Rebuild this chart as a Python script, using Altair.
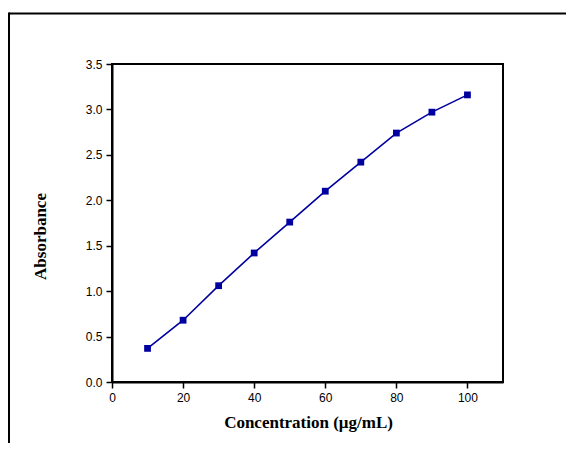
import altair as alt
import pandas as pd

conc = [10, 20, 30, 40, 50, 60, 70, 80, 90, 100]
absorb = [0.37, 0.68, 1.06, 1.42, 1.76, 2.10, 2.42, 2.74, 2.97, 3.16]

x_ticks = [0, 10, 20, 30, 40, 50, 60, 70, 80, 90, 100, 110]
y_ticks = [0, 0.25, 0.5, 0.75, 1.0, 1.25, 1.5, 1.75, 2.0, 2.25, 2.5, 2.75, 3.0, 3.25, 3.5]

df = pd.DataFrame({"conc": conc, "abs": absorb})

COLOR = "#0000A0"

x_enc = alt.X(
    "conc:Q",
    scale=alt.Scale(domain=[0, 110], nice=False, zero=False),
    axis=alt.Axis(
        values=x_ticks,
        labelExpr="datum.value % 20 === 0 ? datum.label : ''",
        tickSize={"condition": {"test": "datum.value % 20 === 0", "value": 6}, "value": 3},
        title="Concentration (μg/mL)",
        titleX=196,
        titleY=45,
        titleAnchor="middle",
        titleAlign="center",
        titleBaseline="alphabetic",
        labelPadding=4,
        labelFlush=False,
    ),
)
y_enc = alt.Y(
    "abs:Q",
    scale=alt.Scale(domain=[0, 3.5], nice=False),
    axis=alt.Axis(
        values=y_ticks,
        format=".1f",
        labelExpr="(datum.value * 2) % 1 === 0 ? datum.label : ''",
        tickSize={"condition": {"test": "(datum.value * 2) % 1 === 0", "value": 6}, "value": 3},
        title="Absorbance",
        titleAngle=270,
        titleX=-67,
        titleY=172,
        titleAlign="center",
        titleBaseline="alphabetic",
        labelPadding=4,
        labelFlush=False,
    ),
)

base = alt.Chart(df)
line = base.mark_line(color=COLOR, strokeWidth=1.6).encode(x=x_enc, y=y_enc)
pts = base.mark_square(color=COLOR, size=46, opacity=1).encode(x="conc:Q", y="abs:Q")

frame_data = alt.Data(values=[{"k": 1}])
frame_top = alt.Chart(frame_data).mark_rule(color="black", strokeWidth=2).encode(
    x=alt.value(-103), x2=alt.value(600), y=alt.value(-50.5)
)
frame_left = alt.Chart(frame_data).mark_rule(color="black", strokeWidth=2).encode(
    x=alt.value(-103), y=alt.value(-51.5), y2=alt.value(600)
)

chart = (
    alt.layer(frame_top, frame_left, line, pts)
    .properties(
        width=391,
        height=318,
        padding={"left": 104, "top": 56, "right": 63, "bottom": 61},
        autosize=alt.AutoSizeParams(type="none"),
        background="white",
    )
    .configure_view(stroke="black", strokeWidth=2)
    .configure_axis(
        grid=False,
        domainColor="black",
        domainWidth=2,
        tickColor="black",
        tickWidth=1.5,
        labelFont="Liberation Sans",
        labelFontSize=12,
        labelColor="black",
        titleFont="Liberation Serif",
        titleFontSize=17,
        titleFontWeight="bold",
        titleColor="black",
    )
)

chart.save("out.html", embed_options={"renderer": "svg", "actions": False})
